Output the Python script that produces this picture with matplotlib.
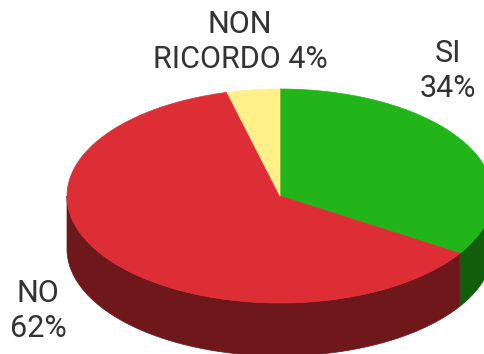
import numpy as np
import matplotlib
matplotlib.use('Agg')
import matplotlib.pyplot as plt
from matplotlib.patches import Polygon

labels = ['SI', 'NO', 'NON\nRICORDO']
shares = [34, 62, 4]
top_colors = ['#21b51a', '#dd2e35', '#fff08a']
side_colors = ['#115e0c', '#6e181b', '#b3a861']

# ellipse geometry in pixels
cx, cy, rx, ry, depth = 280, 196, 213, 107, 53


def rim(t0, t1, n=200):
    t = np.radians(np.linspace(t0, t1, n))
    return np.column_stack([cx + rx * np.cos(t), cy - ry * np.sin(t)])


fig = plt.figure(figsize=(4.85, 3.54), dpi=100)
ax = fig.add_axes([0, 0, 1, 1])
ax.set_xlim(0, 485)
ax.set_ylim(354, 0)
ax.axis('off')

# slices go clockwise from 12 o'clock
start = 90.0
bounds = []
for s in shares:
    end = start - s / 100 * 360
    bounds.append((start, end))
    start = end

# visible side walls (front half only)
for (a0, a1), col in zip(bounds, side_colors):
    for k in (-360, 0, 360):
        lo = max(a1 + k, -180)
        hi = min(a0 + k, 0)
        if hi > lo:
            top = rim(hi, lo)
            bot = top[::-1] + [0, depth]
            ax.add_patch(Polygon(np.vstack([top, bot]), closed=True,
                                 fc=col, ec=col, lw=0.5))

# top face
for (a0, a1), col in zip(bounds, top_colors):
    pts = np.vstack([[cx, cy], rim(a0, a1)])
    ax.add_patch(Polygon(pts, closed=True, fc=col, ec=col, lw=0.5))

txt = dict(fontsize=22, color='#333333', ha='center', va='center',
           family='Roboto', fontweight='normal', linespacing=1.3)
ax.text(448, 71, f'{labels[0]}\n{shares[0]}%', **txt)
ax.text(38, 311, f'{labels[1]}\n{shares[1]}%', **txt)
ax.text(240, 42, f'{labels[2]} {shares[2]}%', **txt)

fig.savefig('out.png', dpi=100)
